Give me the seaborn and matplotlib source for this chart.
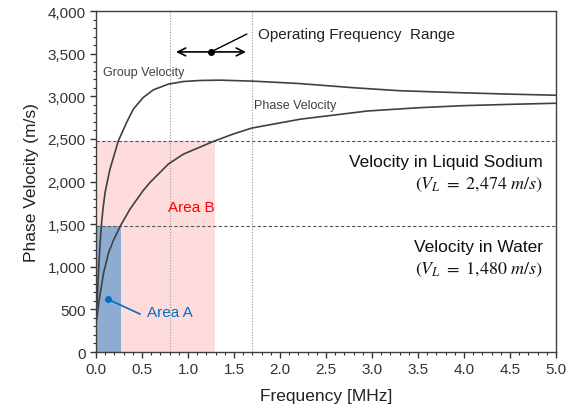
import matplotlib
matplotlib.use("Agg")
import matplotlib.pyplot as plt
import seaborn as sns
import pandas as pd
import numpy as np
from matplotlib.ticker import MultipleLocator, FuncFormatter

group_freq = [0.0, 0.015, 0.03, 0.045, 0.058, 0.076, 0.1, 0.152, 0.243, 0.333,
              0.406, 0.514, 0.623, 0.786, 0.95, 1.13, 1.35, 1.71, 2.2, 2.8,
              3.3, 4.0, 4.5, 5.0]
group_vel = [330, 650, 1000, 1270, 1480, 1680, 1880, 2145, 2477, 2693,
             2849, 2986, 3075, 3142, 3173, 3185, 3189, 3177, 3150, 3100,
             3065, 3040, 3025, 3012]

phase_freq = [0.0, 0.036, 0.083, 0.138, 0.19, 0.265, 0.37, 0.51, 0.587, 0.786,
              0.95, 1.275, 1.49, 1.69, 2.22, 2.95, 3.5, 4.0, 4.5, 5.0]
phase_vel = [330, 620, 930, 1170, 1310, 1480, 1676, 1890, 1989, 2204,
             2321, 2470, 2556, 2626, 2731, 2827, 2865, 2890, 2905, 2918]

v_water = 1480
v_sodium = 2474
f_area_a = 0.27
f_area_b = 1.29
op_range = [0.8, 1.7]

df_group = pd.DataFrame({"freq": group_freq, "vel": group_vel})
df_phase = pd.DataFrame({"freq": phase_freq, "vel": phase_vel})

sns.set_style("white")
plt.rcParams["font.family"] = ["Liberation Sans", "DejaVu Sans"]
plt.rcParams["mathtext.fontset"] = "stix"

fig = plt.figure(figsize=(5.69, 4.14), dpi=100)
ax = fig.add_axes([0.1687, 0.1473, 0.8083, 0.8237])

# shaded areas
ax.axvspan(0, f_area_b, ymax=v_sodium / 4000, color="#FFDCDC", lw=0, zorder=0)
ax.axvspan(0, f_area_a, ymax=v_water / 4000, color="#8EACD2", lw=0, zorder=1)

# reference lines
for v in [v_water, v_sodium]:
    ax.axhline(v, color="#555555", lw=0.8, ls=(0, (3, 2)), zorder=2)
for f in op_range:
    ax.axvline(f, color="#999999", lw=0.8, ls=(0, (1, 1.5)), zorder=2)

sns.lineplot(data=df_group, x="freq", y="vel", color="#404040", lw=1.2, ax=ax, zorder=3)
sns.lineplot(data=df_phase, x="freq", y="vel", color="#404040", lw=1.2, ax=ax, zorder=3)

# operating range arrow
ax.annotate("", xy=(0.84, 3520), xytext=(1.66, 3520),
            arrowprops=dict(arrowstyle="<->", color="black", lw=1.2,
                            mutation_scale=14))
ax.plot([1.25], [3520], "o", color="black", ms=4)
ax.plot([1.25, 1.64], [3520, 3730], color="black", lw=1.0)
ax.text(1.76, 3730, "Operating Frequency  Range", fontsize=11, va="center",
        color="#222222")

ax.text(0.08, 3280, "Group Velocity", fontsize=9, color="#404040", va="center")
ax.text(1.72, 2895, "Phase Velocity", fontsize=9, color="#404040", va="center")

ax.text(4.86, 2240, "Velocity in Liquid Sodium", fontsize=12.5, ha="right",
        va="center", color="#111111")
ax.text(4.86, 1975, r"$(V_L\ =\ 2{,}474\ m/s)$", fontsize=13, ha="right",
        va="center", color="#111111")
ax.text(4.86, 1243, "Velocity in Water", fontsize=12.5, ha="right",
        va="center", color="#111111")
ax.text(4.86, 975, r"$(V_L\ =\ 1{,}480\ m/s)$", fontsize=13, ha="right",
        va="center", color="#111111")

ax.text(0.78, 1700, "Area B", fontsize=11, color="#FF0000", va="center")
ax.plot([0.127], [620], "o", color="#0070C0", ms=4)
ax.plot([0.127, 0.48], [620, 445], color="#0070C0", lw=1.2)
ax.text(0.55, 470, "Area A", fontsize=11, color="#0070C0", va="center")

ax.set_xlim(0, 5)
ax.set_ylim(0, 4000)
ax.xaxis.set_major_locator(MultipleLocator(0.5))
ax.xaxis.set_minor_locator(MultipleLocator(0.1))
ax.yaxis.set_major_locator(MultipleLocator(500))
ax.yaxis.set_minor_locator(MultipleLocator(100))
ax.xaxis.set_major_formatter(FuncFormatter(lambda x, p: f"{x:.1f}"))
ax.yaxis.set_major_formatter(FuncFormatter(lambda y, p: f"{int(y):,}"))
ax.tick_params(which="major", direction="out", length=4, width=1,
               labelsize=11, colors="#333333", bottom=True, left=True)
ax.tick_params(which="minor", direction="out", length=2.5, width=0.8,
               colors="#333333", bottom=True, left=True)
for s in ax.spines.values():
    s.set_color("#404040")
    s.set_linewidth(1.0)

ax.set_xlabel("Frequency [MHz]", fontsize=12.5, color="#222222", labelpad=8)
ax.set_ylabel("Phase Velocity (m/s)", fontsize=12.5, color="#222222", labelpad=6)

fig.savefig("out.png", dpi=100)
